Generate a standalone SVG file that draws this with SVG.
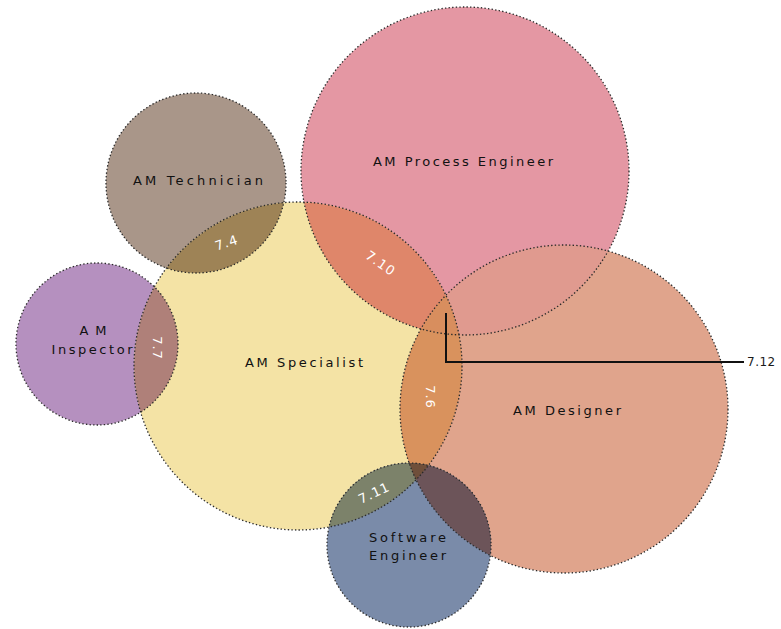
<svg xmlns="http://www.w3.org/2000/svg" width="781" height="629" viewBox="0 0 781 629">
<defs>
<clipPath id="cProc"><circle cx="465" cy="171" r="164"/></clipPath>
<clipPath id="cTech"><circle cx="196" cy="183" r="90"/></clipPath>
<clipPath id="cInsp"><circle cx="97" cy="344" r="81"/></clipPath>
<clipPath id="cSpec"><circle cx="298" cy="366" r="164"/></clipPath>
<clipPath id="cDes"><circle cx="564" cy="409" r="164"/></clipPath>
<clipPath id="cSoft"><circle cx="409" cy="545" r="82"/></clipPath>
</defs>
<style>
.outline{fill:none;stroke:#2a2a2a;stroke-width:1.3;stroke-dasharray:1.4 2.2}
.lbl{font-family:"DejaVu Sans","Liberation Sans",Arial,sans-serif;font-size:13px;fill:#111111;text-anchor:middle}
.num{font-family:"DejaVu Sans","Liberation Sans",Arial,sans-serif;font-size:13px;fill:#ffffff;text-anchor:middle;letter-spacing:1px}
</style>
<rect width="781" height="629" fill="#ffffff"/>
<g id="fills">
<circle id="proc-fill" cx="465" cy="171" r="164" fill="#E497A3"/>
<circle id="tech-fill" cx="196" cy="183" r="90" fill="#A99689"/>
<circle id="insp-fill" cx="97" cy="344" r="81" fill="#B590BF"/>
<circle id="spec-fill" cx="298" cy="366" r="164" fill="#F4E3A5"/>
<circle id="des-fill" cx="564" cy="409" r="164" fill="#E0A48C"/>
<circle id="soft-fill" cx="409" cy="545" r="82" fill="#7A8BA9"/>
</g>
<g id="intersections">
<g clip-path="url(#cSpec)"><circle cx="196" cy="183" r="90" fill="#9E8356"/></g>
<g clip-path="url(#cSpec)"><circle cx="97" cy="344" r="81" fill="#AF8079"/></g>
<g clip-path="url(#cSpec)"><circle cx="465" cy="171" r="164" fill="#DF866A"/></g>
<g clip-path="url(#cDes)"><circle cx="465" cy="171" r="164" fill="#E09A8F"/></g>
<g clip-path="url(#cSpec)"><circle cx="564" cy="409" r="164" fill="#D9925D"/></g>
<g clip-path="url(#cSpec)"><g clip-path="url(#cDes)"><circle cx="465" cy="171" r="164" fill="#D88E5E"/></g></g>
<g clip-path="url(#cSpec)"><circle cx="409" cy="545" r="82" fill="#7C826A"/></g>
<g clip-path="url(#cDes)"><circle cx="409" cy="545" r="82" fill="#6C5459"/></g>
<g clip-path="url(#cSpec)"><g clip-path="url(#cDes)"><circle cx="409" cy="545" r="82" fill="#6F4F3A"/></g></g>
</g>
<g id="node-proc">
<circle class="outline" cx="465" cy="171" r="164"/>
<text class="lbl" x="463" y="166" textLength="180" lengthAdjust="spacing">AM Process Engineer</text>
</g>
<g id="node-tech">
<circle class="outline" cx="196" cy="183" r="90"/>
<text class="lbl" x="198" y="185" textLength="130" lengthAdjust="spacing">AM Technician</text>
</g>
<g id="node-insp">
<circle class="outline" cx="97" cy="344" r="81"/>
<text class="lbl" x="93" y="335" textLength="27" lengthAdjust="spacing">AM</text>
<text class="lbl" x="92" y="354" textLength="81" lengthAdjust="spacing">Inspector</text>
</g>
<g id="node-spec">
<circle class="outline" cx="298" cy="366" r="164"/>
<text class="lbl" x="304" y="367" textLength="118" lengthAdjust="spacing">AM Specialist</text>
</g>
<g id="node-des">
<circle class="outline" cx="564" cy="409" r="164"/>
<text class="lbl" x="567" y="415" textLength="108" lengthAdjust="spacing">AM Designer</text>
</g>
<g id="node-soft">
<circle class="outline" cx="409" cy="545" r="82"/>
<text class="lbl" x="407.5" y="542" textLength="77" lengthAdjust="spacing">Software</text>
<text class="lbl" x="407.5" y="560" textLength="77" lengthAdjust="spacing">Engineer</text>
</g>
<g id="overlap-labels">
<text class="num" transform="translate(228,247) rotate(-18)">7.4</text>
<text class="num" transform="translate(153,348) rotate(90)">7.7</text>
<text class="num" transform="translate(378,267) rotate(35)">7.10</text>
<text class="num" transform="translate(426,397) rotate(90)">7.6</text>
<text class="num" transform="translate(376,497) rotate(-25)">7.11</text>
</g>
<g id="connectors">
<polyline points="446,313 446,362 744,362" fill="none" stroke="#111111" stroke-width="2"/>
<text x="747" y="366" font-family="DejaVu Sans, Liberation Sans, Arial, sans-serif" font-size="12" fill="#1a1a1a" letter-spacing="0.5">7.12</text>
</g>
</svg>
